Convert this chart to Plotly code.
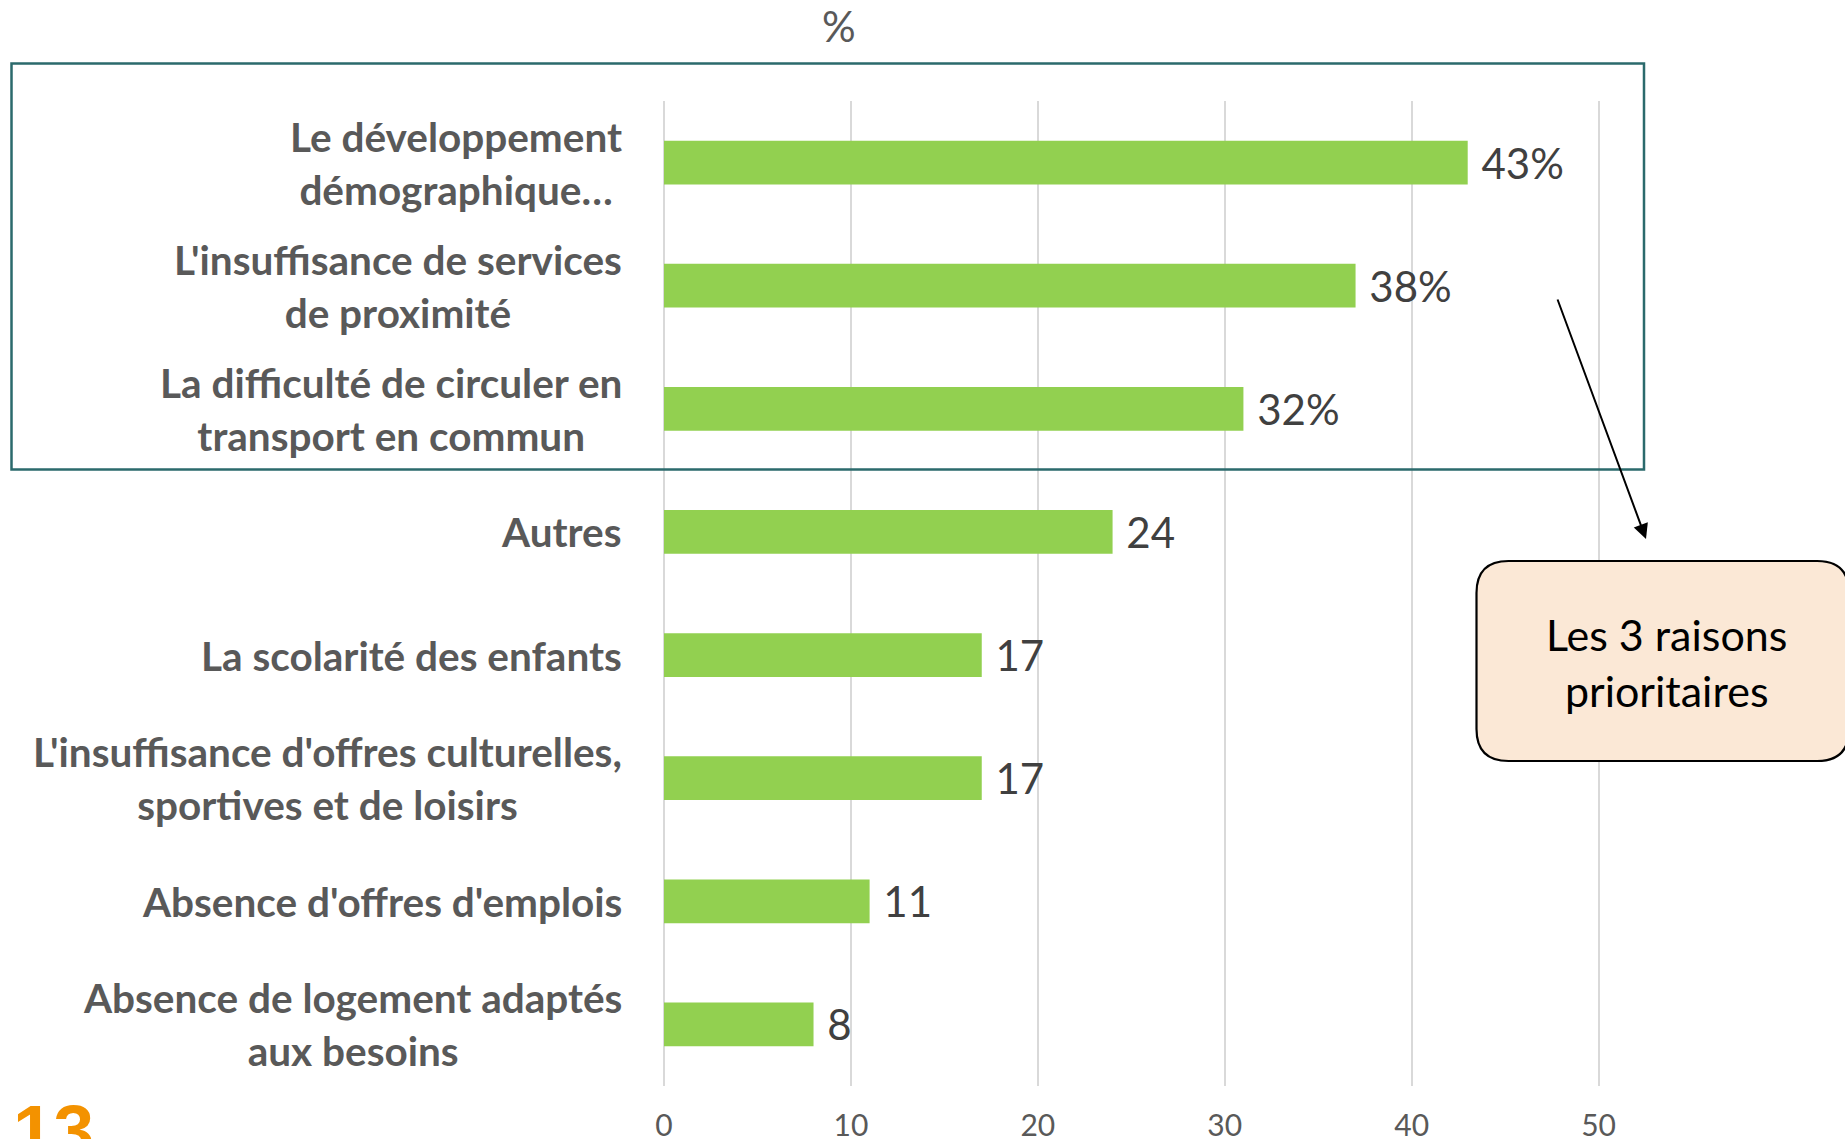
import plotly.graph_objects as go

# ---------------- data ----------------
categories = [
    "Le développement<br>démographique…",
    "L'insuffisance de services<br>de proximité",
    "La difficulté de circuler en<br>transport en commun",
    "Autres",
    "La scolarité des enfants",
    "L'insuffisance d'offres culturelles,<br>sportives et de loisirs",
    "Absence d'offres d'emplois",
    "Absence de logement adaptés<br>aux besoins",
]
values = [43, 37, 31, 24, 17, 17, 11, 8]
value_labels = ["43%", "38%", "32%", "24", "17", "17", "11", "8"]
x_ticks = [0, 10, 20, 30, 40, 50]
axis_title = "%"
callout_text = "Les 3 raisons<br>prioritaires"
page_number = "13"

# ---------------- layout geometry ----------------
W, H = 1845, 1139
ML, MR, MT, MB = 664, 153, 101, 53
PW = W - ML - MR
PH = H - MT - MB
XMAX = 55


def px(x):
    return (x - ML) / PW


def py(y):
    return (H - MB - y) / PH


fig = go.Figure()
fig.add_trace(
    go.Bar(
        x=values,
        y=categories,
        orientation="h",
        marker=dict(color="#92D050", line=dict(width=0)),
        width=0.355,
        text=["\u00a0" + t for t in value_labels],
        textposition="outside",
        textfont=dict(family="Lato", size=42, color="#404040"),
        constraintext="none",
        cliponaxis=False,
        hoverinfo="skip",
    )
)

annotations = []
# category labels
for c in categories:
    annotations.append(
        dict(
            x=0, xref="paper", xshift=-40,
            y=c, yref="y",
            text="<b>" + c + "</b>",
            xanchor="right", yanchor="middle", align="center",
            showarrow=False,
            font=dict(family="Lato", size=40.5, color="#595959"),
        )
    )
# axis unit "%"
annotations.append(
    dict(x=px(839), y=py(26), xref="paper", yref="paper", text=axis_title,
         showarrow=False, xanchor="center", yanchor="middle",
         font=dict(family="Lato", size=42, color="#595959"))
)
# callout text
annotations.append(
    dict(x=px(1666), y=py(662), xref="paper", yref="paper", text=callout_text,
         showarrow=False, xanchor="center", yanchor="middle", align="center",
         font=dict(family="Lato", size=43, color="#000000"))
)
# arrow
annotations.append(
    dict(x=px(1646), y=py(539), xref="paper", yref="paper", text="",
         showarrow=True, ax=1557 - 1646, ay=298 - 539,
         arrowhead=2, arrowsize=1.5, arrowwidth=2, arrowcolor="#000000",
         standoff=0, startstandoff=0)
)
# page number (cut by the bottom edge, as in the reference)
annotations.append(
    dict(x=px(11), y=py(1088), xref="paper", yref="paper", text="<b>" + page_number + "</b>",
         showarrow=False, xanchor="left", yanchor="top",
         font=dict(family="Liberation Sans", size=73, color="#F39200"))
)

# rounded callout box path
x0, x1, y0, y1, r = 1476.5, 1849, 561, 761, 32
pts = [
    ("M", (x0 + r, y0)), ("L", (x1 - r, y0)), ("Q", (x1, y0), (x1, y0 + r)),
    ("L", (x1, y1 - r)), ("Q", (x1, y1), (x1 - r, y1)),
    ("L", (x0 + r, y1)), ("Q", (x0, y1), (x0, y1 - r)),
    ("L", (x0, y0 + r)), ("Q", (x0, y0), (x0 + r, y0)),
]
path = ""
for p in pts:
    cmd = p[0]
    coords = " ".join(f"{px(a):.5f},{py(b):.5f}" for a, b in p[1:])
    path += f"{cmd} {coords} "
path += "Z"

shapes = [
    dict(type="rect", xref="paper", yref="paper",
         x0=px(11.5), x1=px(1644), y0=py(63.5), y1=py(469.5),
         line=dict(color="#2B6A6C", width=2.5), fillcolor="rgba(0,0,0,0)", layer="above"),
    dict(type="path", xref="paper", yref="paper", path=path,
         line=dict(color="#000000", width=2.2), fillcolor="#FBE8D6", layer="above"),
]

fig.update_layout(
    width=W, height=H, autosize=False,
    margin=dict(l=ML, r=MR, t=MT, b=MB, pad=0, autoexpand=False),
    paper_bgcolor="white", plot_bgcolor="white",
    showlegend=False,
    annotations=annotations,
    shapes=shapes,
    xaxis=dict(
        range=[0, XMAX], tickvals=x_ticks, ticktext=[str(v) for v in x_ticks],
        showgrid=True, gridcolor="#D9D9D9", gridwidth=1.5,
        zeroline=True, zerolinecolor="#D9D9D9", zerolinewidth=1.5,
        showline=False, ticks="",
        tickfont=dict(family="Lato", size=30, color="#595959"),
        ticklabelstandoff=19,
        automargin=False,
        fixedrange=True,
    ),
    yaxis=dict(
        range=[len(categories) - 0.5, -0.5],
        showticklabels=False, showgrid=False, zeroline=False, showline=False,
        ticks="", automargin=False, fixedrange=True,
    ),
)

fig.write_html(
    "out.html",
    config={"displayModeBar": False},
    post_script="document.body.style.margin='0';document.body.style.overflow='hidden';",
)
